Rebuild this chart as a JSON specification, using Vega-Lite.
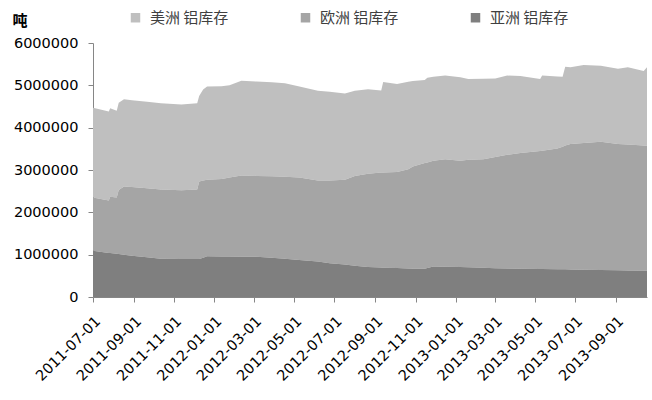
{
  "$schema": "https://vega.github.io/schema/vega-lite/v6.json",
  "width": 554,
  "height": 254,
  "autosize": "none",
  "padding": {"left": 93, "top": 43, "right": 5, "bottom": 103},
  "background": "white",
  "config": {"view": {"stroke": null}, "font": "DejaVu Sans"},
  "data": {
    "values": [
      {"date": "2011-07-01", "美洲 铝库存": 2120000, "欧洲 铝库存": 1260000, "亚洲 铝库存": 1090000},
      {"date": "2011-07-25", "美洲 铝库存": 2100000, "欧洲 铝库存": 1240000, "亚洲 铝库存": 1040000},
      {"date": "2011-07-27", "美洲 铝库存": 2090000, "欧洲 铝库存": 1330000, "亚洲 铝库存": 1040000},
      {"date": "2011-08-06", "美洲 铝库存": 2050000, "欧洲 铝库存": 1330000, "亚洲 铝库存": 1020000},
      {"date": "2011-08-09", "美洲 铝库存": 2060000, "欧洲 铝库存": 1515000, "亚洲 铝库存": 1015000},
      {"date": "2011-08-17", "美洲 铝库存": 2060000, "欧洲 铝库存": 1610000, "亚洲 铝库存": 1000000},
      {"date": "2011-08-29", "美洲 铝库存": 2050000, "欧洲 铝库存": 1625000, "亚洲 铝库存": 975000},
      {"date": "2011-09-21", "美洲 铝库存": 2040000, "欧洲 铝库存": 1630000, "亚洲 铝库存": 940000},
      {"date": "2011-10-12", "美洲 铝库存": 2035000, "欧洲 铝库存": 1635000, "亚洲 铝库存": 905000},
      {"date": "2011-11-12", "美洲 铝库存": 2030000, "欧洲 铝库存": 1625000, "亚洲 铝库存": 895000},
      {"date": "2011-12-06", "美洲 铝库存": 2035000, "欧洲 铝库存": 1640000, "亚洲 铝库存": 900000},
      {"date": "2011-12-09", "美洲 铝库存": 2020000, "欧洲 铝库存": 1830000, "亚洲 铝库存": 900000},
      {"date": "2011-12-15", "美洲 铝库存": 2150000, "欧洲 铝库存": 1820000, "亚洲 铝库存": 930000},
      {"date": "2011-12-21", "美洲 铝库存": 2200000, "欧洲 铝库存": 1810000, "亚洲 铝库存": 960000},
      {"date": "2012-01-12", "美洲 铝库存": 2190000, "欧洲 铝库存": 1835000, "亚洲 铝库存": 955000},
      {"date": "2012-01-24", "美洲 铝库存": 2180000, "欧洲 铝库存": 1865000, "亚洲 铝库存": 955000},
      {"date": "2012-02-11", "美洲 铝库存": 2240000, "欧洲 铝库存": 1920000, "亚洲 铝库存": 950000},
      {"date": "2012-03-05", "美洲 铝库存": 2230000, "欧洲 铝库存": 1910000, "亚洲 铝库存": 950000},
      {"date": "2012-03-28", "美洲 铝库存": 2220000, "欧洲 铝库存": 1925000, "亚洲 铝库存": 925000},
      {"date": "2012-04-17", "美洲 铝库存": 2210000, "欧洲 铝库存": 1935000, "亚洲 铝库存": 905000},
      {"date": "2012-05-09", "美洲 铝库存": 2150000, "欧洲 铝库存": 1945000, "亚洲 铝库存": 875000},
      {"date": "2012-06-06", "美洲 铝库存": 2120000, "欧洲 铝库存": 1910000, "亚洲 铝库存": 840000},
      {"date": "2012-06-24", "美洲 铝库存": 2100000, "欧洲 铝库存": 1950000, "亚洲 铝库存": 800000},
      {"date": "2012-07-17", "美洲 铝库存": 2040000, "欧洲 铝库存": 2005000, "亚洲 铝库存": 765000},
      {"date": "2012-08-01", "美洲 铝库存": 2010000, "欧洲 铝库存": 2120000, "亚洲 铝库存": 740000},
      {"date": "2012-08-21", "美洲 铝库存": 2000000, "欧洲 铝库存": 2200000, "亚洲 铝库存": 710000},
      {"date": "2012-09-10", "美洲 铝库存": 1940000, "欧洲 铝库存": 2245000, "亚洲 铝库存": 695000},
      {"date": "2012-09-13", "美洲 铝库存": 2140000, "欧洲 铝库存": 2250000, "亚洲 铝库存": 690000},
      {"date": "2012-10-04", "美洲 铝库存": 2075000, "欧洲 铝库存": 2270000, "亚洲 铝库存": 685000},
      {"date": "2012-10-21", "美洲 铝库存": 2065000, "欧洲 铝库存": 2345000, "亚洲 铝库存": 675000},
      {"date": "2012-10-28", "美洲 铝库存": 2020000, "欧洲 铝库存": 2410000, "亚洲 铝库存": 670000},
      {"date": "2012-11-15", "美洲 铝库存": 1960000, "欧洲 铝库存": 2498000, "亚洲 铝库存": 667000},
      {"date": "2012-11-19", "美洲 铝库存": 2000000, "欧洲 铝库存": 2495000, "亚洲 铝库存": 685000},
      {"date": "2012-11-28", "美洲 铝库存": 1980000, "欧洲 铝库存": 2500000, "亚洲 铝库存": 720000},
      {"date": "2012-12-16", "美洲 铝库存": 1975000, "欧洲 铝库存": 2540000, "亚洲 铝库存": 715000},
      {"date": "2013-01-08", "美洲 铝库存": 1970000, "欧洲 铝库存": 2510000, "亚洲 铝库存": 710000},
      {"date": "2013-01-20", "美洲 铝库存": 1910000, "欧洲 铝库存": 2540000, "亚洲 铝库存": 700000},
      {"date": "2013-02-12", "美洲 铝库存": 1900000, "欧洲 铝库存": 2565000, "亚洲 铝库存": 690000},
      {"date": "2013-03-02", "美洲 铝库存": 1850000, "欧洲 铝库存": 2630000, "亚洲 铝库存": 680000},
      {"date": "2013-03-20", "美洲 铝库存": 1870000, "欧洲 铝库存": 2688000, "亚洲 铝库存": 672000},
      {"date": "2013-04-09", "美洲 铝库存": 1820000, "欧洲 铝库存": 2733000, "亚洲 铝库存": 667000},
      {"date": "2013-05-09", "美洲 铝库存": 1700000, "欧洲 铝库存": 2790000, "亚洲 铝库存": 660000},
      {"date": "2013-05-12", "美洲 铝库存": 1775000, "欧洲 铝库存": 2795000, "亚洲 铝库存": 660000},
      {"date": "2013-06-04", "美洲 铝库存": 1700000, "欧洲 铝库存": 2855000, "亚洲 铝库存": 655000},
      {"date": "2013-06-12", "美洲 铝库存": 1650000, "欧洲 铝库存": 2896000, "亚洲 铝库存": 654000},
      {"date": "2013-06-16", "美洲 铝库存": 1860000, "欧洲 铝库存": 2927000, "亚洲 铝库存": 653000},
      {"date": "2013-06-24", "美洲 铝库存": 1815000, "欧洲 铝库存": 2965000, "亚洲 铝库存": 650000},
      {"date": "2013-07-14", "美洲 铝库存": 1840000, "欧洲 铝库存": 2995000, "亚洲 铝库存": 645000},
      {"date": "2013-08-09", "美洲 铝库存": 1790000, "欧洲 铝库存": 3030000, "亚洲 铝库存": 640000},
      {"date": "2013-09-04", "美洲 铝库存": 1775000, "欧洲 铝库存": 2985000, "亚洲 铝库存": 630000},
      {"date": "2013-09-19", "美洲 铝库存": 1830000, "欧洲 铝库存": 2972000, "亚洲 铝库存": 628000},
      {"date": "2013-10-13", "美洲 铝库存": 1760000, "欧洲 铝库存": 2960000, "亚洲 铝库存": 620000},
      {"date": "2013-10-18", "美洲 铝库存": 1855000, "欧洲 铝库存": 2955000, "亚洲 铝库存": 620000}
    ]
  },
  "transform": [
    {"fold": ["美洲 铝库存", "欧洲 铝库存", "亚洲 铝库存"], "as": ["region", "tons"]}
  ],
  "mark": {"type": "area", "interpolate": "linear"},
  "encoding": {
    "x": {
      "field": "date",
      "type": "temporal",
      "scale": {
        "type": "utc",
        "domain": [
          {"year": 2011, "month": 7, "date": 1, "utc": true},
          {"year": 2013, "month": 10, "date": 18, "utc": true}
        ]
      },
      "axis": {
        "title": null,
        "grid": false,
        "values": [
          {"year": 2011, "month": 7, "date": 1, "utc": true},
          {"year": 2011, "month": 9, "date": 1, "utc": true},
          {"year": 2011, "month": 11, "date": 1, "utc": true},
          {"year": 2012, "month": 1, "date": 1, "utc": true},
          {"year": 2012, "month": 3, "date": 1, "utc": true},
          {"year": 2012, "month": 5, "date": 1, "utc": true},
          {"year": 2012, "month": 7, "date": 1, "utc": true},
          {"year": 2012, "month": 9, "date": 1, "utc": true},
          {"year": 2012, "month": 11, "date": 1, "utc": true},
          {"year": 2013, "month": 1, "date": 1, "utc": true},
          {"year": 2013, "month": 3, "date": 1, "utc": true},
          {"year": 2013, "month": 5, "date": 1, "utc": true},
          {"year": 2013, "month": 7, "date": 1, "utc": true},
          {"year": 2013, "month": 9, "date": 1, "utc": true}
        ],
        "format": "%Y-%m-%d",
        "labelAngle": -45,
        "labelFontSize": 14.5,
        "labelColor": "#000000",
        "labelOverlap": false,
        "labelFlush": false,
        "labelBound": false,
        "labelPadding": 12,
        "domainColor": "#868686",
        "tickColor": "#868686",
        "tickSize": 5
      }
    },
    "y": {
      "field": "tons",
      "type": "quantitative",
      "stack": "zero",
      "scale": {"domain": [0, 6000000], "nice": false},
      "axis": {
        "values": [0, 1000000, 2000000, 3000000, 4000000, 5000000, 6000000],
        "format": "d",
        "grid": false,
        "labelFontSize": 14.5,
        "labelColor": "#000000",
        "labelPadding": 10,
        "labelFlush": false,
        "domainColor": "#868686",
        "tickColor": "#868686",
        "tickSize": 5,
        "title": "吨",
        "titleAngle": 0,
        "titleX": -81,
        "titleY": -23,
        "titleAlign": "left",
        "titleBaseline": "middle",
        "titleFont": "Noto Sans CJK SC",
        "titleFontWeight": "bold",
        "titleFontSize": 15,
        "titleColor": "#000000"
      }
    },
    "color": {
      "field": "region",
      "type": "nominal",
      "scale": {
        "domain": ["美洲 铝库存", "欧洲 铝库存", "亚洲 铝库存"],
        "range": ["#BFBFBF", "#A5A5A5", "#7F7F7F"]
      },
      "legend": {
        "title": null,
        "orient": "none",
        "direction": "horizontal",
        "legendX": 35,
        "legendY": -33,
        "symbolType": "square",
        "symbolSize": 90,
        "symbolStrokeWidth": 0,
        "labelFont": "Noto Sans CJK SC",
        "labelFontSize": 15,
        "labelColor": "#404040",
        "labelOffset": 7,
        "columnPadding": 69
      }
    },
    "order": {"field": "region", "sort": "ascending"}
  }
}
